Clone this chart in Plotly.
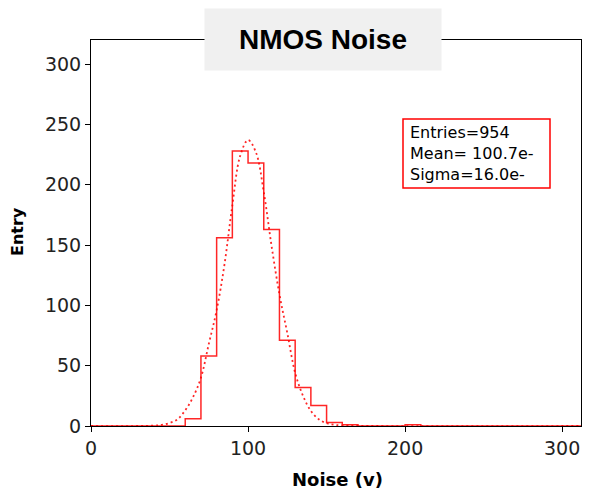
import plotly.graph_objects as go

# ---- data ----
bin_width = 10
bin_lefts = [60, 70, 80, 90, 100, 110, 120, 130, 140, 150, 160, 200]
bin_counts = [6, 58, 156, 228, 218, 163, 71, 32, 17, 3, 1, 1]

fit_x = [0, 40, 45, 50, 55, 60, 65, 70, 75, 80, 85, 90, 95, 100, 105, 110,
         115, 120, 125, 130, 135, 140, 145, 150, 155, 160, 170, 312]
fit_y = [0, 0.3, 1, 2.5, 5.5, 13, 24, 40, 68, 96, 134, 183, 224, 237, 227, 194,
         149, 109, 77, 44, 25, 12.5, 5.6, 2.3, 1, 0.4, 0.1, 0]

x_ticks = [0, 100, 200, 300]
y_ticks = [0, 50, 100, 150, 200, 250, 300]

stats_lines = ["Entries=954", "Mean= 100.7e-", "Sigma=16.0e-"]
title_text = "NMOS Noise"
x_title = "Noise (v)"
y_title = "Entry"

# ---- build step outline over full range ----
counts_map = dict(zip(bin_lefts, bin_counts))
step_x, step_y = [], []
for left in range(0, 320, bin_width):
    step_x.append(left)
    step_y.append(counts_map.get(left, 0))
step_x.append(320)
step_y.append(step_y[-1])

fig = go.Figure()
fig.add_trace(go.Scatter(
    x=fit_x, y=fit_y, mode="lines",
    line=dict(color="rgba(255,0,0,0.85)", width=1.8, dash="2px,3px", shape="spline"),
    hoverinfo="skip", showlegend=False))
fig.add_trace(go.Scatter(
    x=step_x, y=step_y, mode="lines",
    line=dict(color="rgba(255,0,0,0.85)", width=1.5, shape="hv"),
    hoverinfo="skip", showlegend=False))

OFF = 8  # page body margin
W, H = 575, 491 - OFF
L, R, T = 91 - OFF, 2, 40 - OFF
B = H - (426 - OFF)
pw, ph = W - L - R, H - T - B

def px2paper_x(px):
    return (px - OFF - L) / pw

def px2paper_y(py):
    return (H - B - (py - OFF)) / ph

axis_common = dict(showline=True, linecolor="black", linewidth=1, mirror=True,
                   ticks="outside", ticklen=5, tickcolor="black", tickwidth=1,
                   showgrid=False, zeroline=False, automargin=False,
                   tickfont=dict(family="DejaVu Sans", size=19, color="#222"))

fig.update_layout(
    width=W, height=H,
    margin=dict(l=L, r=R, t=T, b=B, autoexpand=False),
    paper_bgcolor="white", plot_bgcolor="white",
    xaxis=dict(range=[0, 312], tickvals=x_ticks, **axis_common),
    yaxis=dict(range=[0, 320], tickvals=y_ticks, **axis_common),
)

# axis titles
fig.add_annotation(xref="paper", yref="paper",
                   x=px2paper_x(337), y=px2paper_y(479),
                   xanchor="center", yanchor="middle", showarrow=False,
                   text="<b>" + x_title + "</b>",
                   font=dict(family="DejaVu Sans", size=18, color="black"))
fig.add_annotation(xref="paper", yref="paper",
                   x=px2paper_x(17), y=px2paper_y(232),
                   xanchor="center", yanchor="middle", showarrow=False, textangle=-90,
                   text="<b>" + y_title + "</b>",
                   font=dict(family="DejaVu Sans", size=16, color="black"))

# stats box
fig.add_shape(type="rect", xref="paper", yref="paper",
              x0=px2paper_x(403), x1=px2paper_x(550),
              y0=px2paper_y(188), y1=px2paper_y(119),
              line=dict(color="red", width=1.5), fillcolor="white", layer="above")
fig.add_annotation(xref="paper", yref="paper",
                   x=px2paper_x(408), y=px2paper_y(121),
                   xanchor="left", yanchor="top", align="left", showarrow=False,
                   text="<br>".join(stats_lines),
                   font=dict(family="DejaVu Sans", size=16, color="black"))

# title box
fig.add_annotation(xref="paper", yref="paper",
                   x=px2paper_x(323), y=px2paper_y(39.7),
                   xanchor="center", yanchor="middle", showarrow=False,
                   text="<b>" + title_text + "</b>",
                   width=236, height=61, borderpad=0, bgcolor="#f0f0f0",
                   font=dict(family="Liberation Sans", size=28, color="black"))

fig.write_html("out.html")
